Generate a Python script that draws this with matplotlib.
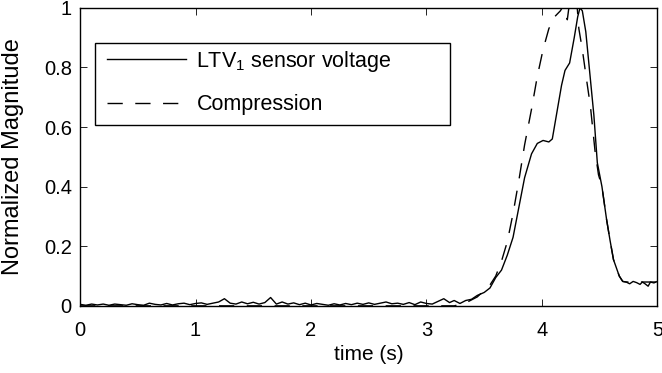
import numpy as np
import matplotlib
matplotlib.use('Agg')
import matplotlib.pyplot as plt
from matplotlib.patches import Rectangle

plt.rcParams['font.family'] = ['Liberation Sans', 'DejaVu Sans']
plt.rcParams['mathtext.fontset'] = 'custom'
plt.rcParams['mathtext.rm'] = 'Liberation Sans'

# ─── Data ─────────────────────────────────────────────────────────────────
# quiet baseline of the sensor voltage, 0 … 3.20 s every 0.05 s
base_t = [i * 0.05 for i in range(65)]
base_v = [0.005, 0.002, 0.006, 0.003, 0.006, 0.002, 0.006, 0.004, 0.002, 0.007,
          0.004, 0.002, 0.009, 0.005, 0.003, 0.008, 0.003, 0.007, 0.009, 0.004,
          0.008, 0.010, 0.005, 0.009, 0.013, 0.024, 0.009, 0.006, 0.013, 0.007,
          0.012, 0.006, 0.011, 0.028, 0.006, 0.013, 0.006, 0.010, 0.004, 0.009,
          0.003, 0.008, 0.005, 0.002, 0.007, 0.003, 0.008, 0.004, 0.009, 0.005,
          0.010, 0.005, 0.009, 0.013, 0.007, 0.009, 0.005, 0.011, 0.004, 0.013,
          0.008, 0.006, 0.015, 0.024, 0.011]

rise_t = [3.24, 3.29, 3.34, 3.39, 3.44, 3.50, 3.55, 3.60, 3.65, 3.70,
          3.75, 3.80, 3.85, 3.91, 3.96, 4.01, 4.06, 4.09, 4.13, 4.17,
          4.20, 4.24, 4.28, 4.31, 4.33, 4.35, 4.38, 4.42, 4.45, 4.48,
          4.52, 4.56, 4.59, 4.62, 4.67, 4.70, 4.73, 4.76, 4.79, 4.82,
          4.85, 4.87, 4.89, 4.92, 4.94, 4.97, 5.00]
rise_v = [0.018, 0.008, 0.018, 0.022, 0.035, 0.045, 0.060, 0.095, 0.120, 0.170,
          0.230, 0.330, 0.430, 0.510, 0.545, 0.555, 0.550, 0.560, 0.650, 0.740,
          0.790, 0.815, 0.900, 0.970, 1.000, 0.990, 0.920, 0.760, 0.640, 0.480,
          0.400, 0.290, 0.220, 0.155, 0.100, 0.082, 0.080, 0.074, 0.082, 0.078,
          0.072, 0.080, 0.075, 0.066, 0.080, 0.077, 0.082]

sensor_t = base_t + rise_t
sensor_v = base_v + rise_v

comp_t = [0.00, 3.24, 3.34, 3.44, 3.55, 3.60, 3.65, 3.70, 3.75, 3.80,
          3.85, 3.91, 3.96, 4.01, 4.06, 4.11, 4.16, 4.19, 4.22, 4.24,
          4.30, 4.32, 4.35, 4.39, 4.42, 4.46, 4.49, 4.52, 4.56, 4.59,
          4.62, 4.67, 4.70, 4.73, 5.00]
comp_v = [0.000, 0.000, 0.010, 0.030, 0.070, 0.100, 0.150, 0.215, 0.310, 0.420,
          0.540, 0.660, 0.770, 0.860, 0.930, 0.970, 0.990, 1.010, 0.960, 1.020,
          1.030, 0.930, 0.860, 0.750, 0.670, 0.520, 0.440, 0.400, 0.290, 0.220,
          0.155, 0.100, 0.082, 0.080, 0.080]

x_ticks = [0, 1, 2, 3, 4, 5]
y_ticks = [0, 0.2, 0.4, 0.6, 0.8, 1]
y_tick_labels = ['0', '0.2', '0.4', '0.6', '0.8', '1']

# ─── Figure ───────────────────────────────────────────────────────────────
fig = plt.figure(figsize=(6.62, 3.73), dpi=100)
ax = fig.add_axes([0.121, 0.180, 0.872, 0.799])

ax.plot(sensor_t, sensor_v, color='black', linewidth=1.0,
        label='LTV$_1$ sensor voltage')
ax.plot(comp_t, comp_v, color='black', linewidth=1.0, linestyle=(0, (11, 9)),
        label='Compression')

ax.set_xlim(0, 5)
ax.set_ylim(0, 1)
ax.set_xticks(x_ticks)
ax.set_yticks(y_ticks)
ax.set_yticklabels(y_tick_labels)
ax.tick_params(direction='in', top=True, right=True, labelsize=14.5,
               length=5, width=0.6)
ax.tick_params(axis='x', pad=11)
ax.tick_params(axis='y', pad=6)
for s in ax.spines.values():
    s.set_linewidth(1.0)

ax.set_xlabel('time (s)', fontsize=15)
ax.set_ylabel('Normalized Magnitude', fontsize=17)
ax.xaxis.set_label_coords(0.5, -0.13)
ax.yaxis.set_label_coords(-0.097, 0.5)

# legend box drawn separately (MATLAB-style wide frame)
ax.add_patch(Rectangle((0.026, 0.608), 0.615, 0.275, transform=ax.transAxes,
                       fill=False, edgecolor='black', linewidth=1.0))
leg = ax.legend(loc='upper left', bbox_to_anchor=(0.046, 0.862), fontsize=15.5,
                frameon=False, handlelength=3.7, borderpad=0, borderaxespad=0,
                labelspacing=0.95, handletextpad=0.47)

fig.savefig('out.png', dpi=100)
